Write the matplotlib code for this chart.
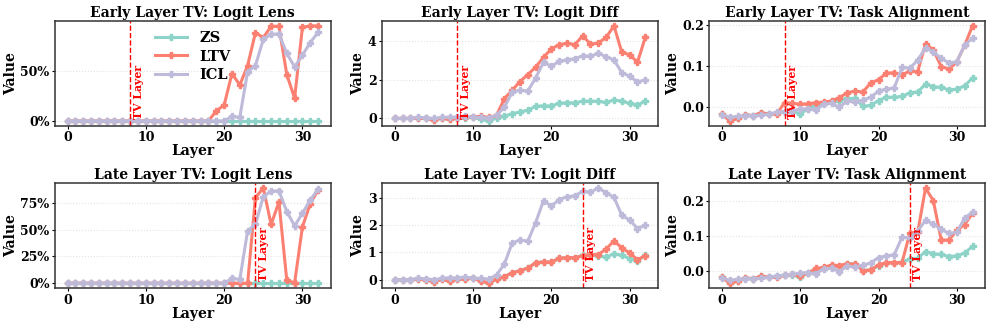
import matplotlib
matplotlib.use("Agg")
import matplotlib.pyplot as plt
from matplotlib.ticker import MaxNLocator, PercentFormatter

layers = list(range(33))

# Logit Lens
zs_lens = [0.0] * 33
icl_lens = [0, 0, 0, 0, 0, 0, 0, 0, 0, 0, 0, 0, 0, 0, 0, 0, 0, 0, 0, 0, 0,
            0.045, 0.035, 0.49, 0.55, 0.81, 0.86, 0.865, 0.67, 0.537, 0.653, 0.778, 0.88]
ltv_early_lens = [0, 0, 0, 0, 0, 0, 0, 0, 0, 0, 0, 0, 0, 0, 0, 0, 0, 0, 0,
                  0.10, 0.157, 0.47, 0.357, 0.55, 0.877, 0.827, 0.94, 0.94, 0.46, 0.227, 0.93, 0.945, 0.943]
ltv_late_lens = [0, 0, 0, 0, 0, 0, 0, 0, 0, 0, 0, 0, 0, 0, 0, 0, 0, 0, 0, 0, 0, 0, 0, 0,
                 0.80, 0.89, 0.55, 0.76, 0.028, 0.003, 0.528, 0.744, 0.873]

# Logit Diff
zs_diff = [0, 0, 0, 0.02, 0, -0.08, 0.01, -0.05, 0.01, 0.04, 0.06, -0.05, -0.13, 0.02, 0.11, 0.25,
           0.33, 0.42, 0.62, 0.65, 0.64, 0.78, 0.81, 0.80, 0.89, 0.89, 0.88, 0.82, 0.95, 0.89, 0.77, 0.68, 0.90]
icl_diff = [0, 0, 0, 0.05, 0.03, 0, 0.05, 0.07, 0.06, 0.10, 0.05, 0.05, 0.02, 0.17, 0.57, 1.34,
            1.45, 1.41, 2.09, 2.89, 2.69, 2.93, 3.03, 3.07, 3.23, 3.20, 3.35, 3.18, 3.01, 2.35, 2.18, 1.87, 1.99]
ltv_early_diff = [0, 0, 0, 0.02, 0, -0.08, 0.01, -0.05, 0.03, 0.05, 0.08, 0.10, 0.05, 0.15, 1.02, 1.45,
                  1.90, 2.26, 2.64, 3.15, 3.57, 3.80, 3.86, 3.80, 4.25, 3.83, 3.88, 4.17, 4.77, 3.40, 3.28, 2.89, 4.17]
ltv_late_diff = [0, 0, 0, 0.02, 0, -0.08, 0.01, -0.05, 0.01, 0.04, 0.06, -0.05, -0.13, 0.02, 0.11, 0.25,
                 0.33, 0.42, 0.62, 0.65, 0.64, 0.78, 0.81, 0.80, 0.88, 0.92, 0.92, 1.12, 1.42, 1.16, 0.98, 0.73, 0.88]

# Task Alignment
zs_ta = [-0.018, -0.035, -0.029, -0.020, -0.022, -0.015, -0.018, -0.015, -0.012, -0.012, -0.017,
         -0.006, 0.004, 0.008, 0.013, 0.015, 0.020, 0.020, 0.001, 0.003, 0.015, 0.023, 0.023, 0.025,
         0.034, 0.036, 0.055, 0.049, 0.047, 0.041, 0.043, 0.051, 0.070]
icl_ta = [-0.020, -0.026, -0.024, -0.022, -0.022, -0.021, -0.018, -0.014, -0.012, -0.010, -0.006,
          -0.005, -0.008, 0.006, 0.008, -0.002, 0.014, 0.011, 0.016, 0.023, 0.038, 0.043, 0.046, 0.096,
          0.094, 0.114, 0.144, 0.134, 0.118, 0.107, 0.110, 0.151, 0.167]
ltv_early_ta = [-0.018, -0.035, -0.029, -0.020, -0.022, -0.015, -0.018, -0.018, 0.010, 0.008, 0.006,
                0.007, 0.010, 0.011, 0.014, 0.022, 0.034, 0.038, 0.036, 0.058, 0.066, 0.082, 0.083, 0.078,
                0.087, 0.086, 0.154, 0.139, 0.098, 0.092, 0.110, 0.150, 0.198]
ltv_late_ta = [-0.018, -0.035, -0.029, -0.020, -0.022, -0.015, -0.018, -0.018, -0.013, -0.010, -0.015,
               -0.006, 0.007, 0.010, 0.017, 0.015, 0.021, 0.019, 0.001, 0.003, 0.017, 0.024, 0.024, 0.024,
               0.108, 0.110, 0.236, 0.200, 0.088, 0.088, 0.116, 0.132, 0.164]

tv_layers = [8, 24]
row_names = ["Early", "Late"]
metric_names = ["Logit Lens", "Logit Diff", "Task Alignment"]

data = {
    (0, 0): (zs_lens, ltv_early_lens, icl_lens),
    (0, 1): (zs_diff, ltv_early_diff, icl_diff),
    (0, 2): (zs_ta, ltv_early_ta, icl_ta),
    (1, 0): (zs_lens, ltv_late_lens, icl_lens),
    (1, 1): (zs_diff, ltv_late_diff, icl_diff),
    (1, 2): (zs_ta, ltv_late_ta, icl_ta),
}

colors = {"ZS": "#8dd3c7", "LTV": "#fb8072", "ICL": "#bebada"}

plt.rcParams['font.family'] = ['DejaVu Serif']
plt.rcParams['font.weight'] = 'bold'

fig, axes = plt.subplots(2, 3, figsize=(9.96, 3.28), dpi=100)
fig.subplots_adjust(left=0.0552, right=0.989, top=0.936, bottom=0.122,
                    wspace=0.187, hspace=0.55)

ylabel_x = [-0.133, -0.062, -0.108]

for r in range(2):
    for c in range(3):
        ax = axes[r, c]
        zs, ltv, icl = data[(r, c)]
        for name, vals in (("ZS", zs), ("LTV", ltv), ("ICL", icl)):
            ax.plot(layers, vals, color=colors[name], marker='P', markersize=5,
                    linewidth=2.2, label=name)
        ax.axvline(tv_layers[r], color='red', linestyle='--', linewidth=1)
        ax.text(tv_layers[r] + 0.3, 0.065, "TV Layer", transform=ax.get_xaxis_transform(),
                rotation=90, color='red', fontsize=7.8, fontweight='bold',
                ha='left', va='bottom')
        ax.set_title(f"{row_names[r]} Layer TV: {metric_names[c]}", fontsize=10,
                     fontweight='bold', pad=3)
        ax.set_xlabel("Layer", fontsize=10, fontweight='bold', labelpad=0)
        ax.set_ylabel("Value", fontsize=10, fontweight='bold')
        ax.yaxis.set_label_coords(ylabel_x[c], 0.5)
        ax.yaxis.set_major_locator(MaxNLocator(nbins=4, steps=[1, 2, 2.5, 5, 10]))
        ax.set_xticks([0, 10, 20, 30])
        if c == 0:
            ax.yaxis.set_major_formatter(PercentFormatter(1.0, decimals=0))
        ax.grid(axis='y', linestyle=':', linewidth=0.8, alpha=0.35)
        ax.tick_params(labelsize=9, pad=1.5, length=2.5)
        for lab in ax.get_xticklabels() + ax.get_yticklabels():
            lab.set_fontweight('bold')
        for sp in ax.spines.values():
            sp.set_color('#333333')
            sp.set_linewidth(1.1)
        if r == 0 and c == 0:
            ax.legend(loc='upper center', frameon=False,
                      prop={'weight': 'bold', 'size': 10.5}, handlelength=2.2,
                      borderaxespad=0.3, labelspacing=0.3)

fig.savefig("out.png", dpi=100)
